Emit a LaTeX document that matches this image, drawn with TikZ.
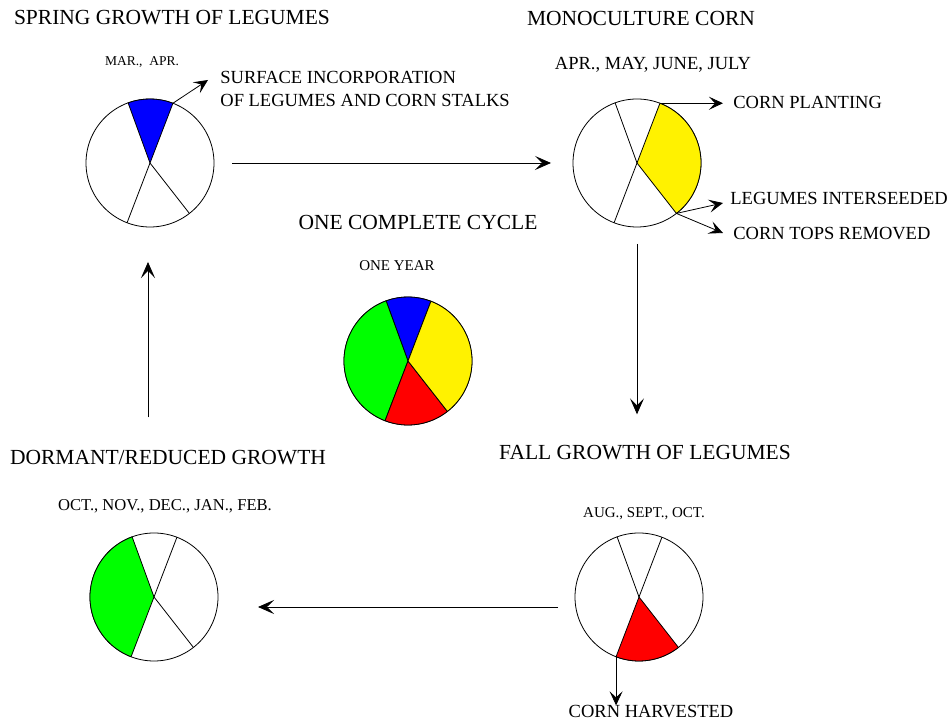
\documentclass[tikz,border=0pt]{standalone}
\usepackage{fontspec}
\setmainfont{Liberation Serif}
\usetikzlibrary{arrows.meta}

\tikzset{
	pie/.style={circle, draw, minimum size=128pt, inner sep=0pt, outer sep=0pt},
	flow/.style={-{Stealth[length=16pt, width=14pt, inset=7pt]}},
	pointer/.style={-{Stealth[length=14pt, width=13pt, inset=6pt]}},
	heading/.style={font=\fontsize{21.5}{24}\selectfont, inner sep=0pt},
	months/.style={font=\fontsize{15}{17}\selectfont, inner sep=0pt},
	event/.style={font=\fontsize{18.5}{23}\selectfont, inner sep=0pt, align=left, anchor=west},
}

\begin{document}
\begin{tikzpicture}[x=1pt, y=1pt, line width=0.8pt]
	\useasboundingbox (0,0) rectangle (951,725);

	% headings
	\node[heading] (springhead) at (172,707) {SPRING GROWTH OF LEGUMES};
	\node[heading] (cornhead) at (641,707) {MONOCULTURE CORN};
	\node[heading] (cyclehead) at (418,503) {ONE COMPLETE CYCLE};
	\node[heading] (dormanthead) at (168,267) {DORMANT/REDUCED GROWTH};
	\node[heading] (fallhead) at (645,272) {FALL GROWTH OF LEGUMES};

	% months
	\node[months, font=\fontsize{13.5}{16}\selectfont] (marapr) at (142,663) {MAR., \ APR.};
	\node[event, anchor=center] (aprjuly) at (653,660) {APR., MAY, JUNE, JULY};
	\node[months] (oneyear) at (397,459) {ONE YEAR};
	\node[months, font=\fontsize{16.6}{19}\selectfont] (octfeb) at (165,219) {OCT., NOV., DEC., JAN., FEB.};
	\node[months] (augoct) at (644,211) {AUG., SEPT., OCT.};

	% events
	\node[event] (surface) at (220,636.5) {SURFACE INCORPORATION\\OF LEGUMES AND CORN STALKS};
	\node[event] (plant) at (733,623) {CORN PLANTING};
	\node[event] (interseed) at (730,527) {LEGUMES INTERSEEDED};
	\node[event] (tops) at (733,491) {CORN TOPS REMOVED};
	\node[event, anchor=center] (harvest) at (651,13) {CORN HARVESTED};

	% spring
	\node[pie] (spring) at (150,562) {};
	\filldraw[fill=blue] (spring.center) -- (spring.69) arc[start angle=69, end angle=110, radius=64pt] -- cycle;
	\foreach \a in {249, 308}
	\draw (spring.center) -- (spring.\a);

	% corn
	\node[pie] (corn) at (637,562) {};
	\filldraw[fill=yellow] (corn.center) -- (corn.308) arc[start angle=-52, end angle=69, radius=64pt] -- cycle;
	\foreach \a in {110, 249}
	\draw (corn.center) -- (corn.\a);

	% one year
	\node[pie] (year) at (408,364) {};
	\filldraw[fill=blue] (year.center) -- (year.69) arc[start angle=69, end angle=110, radius=64pt] -- cycle;
	\filldraw[fill=green] (year.center) -- (year.110) arc[start angle=110, end angle=249, radius=64pt] -- cycle;
	\filldraw[fill=red] (year.center) -- (year.249) arc[start angle=249, end angle=308, radius=64pt] -- cycle;
	\filldraw[fill=yellow] (year.center) -- (year.308) arc[start angle=-52, end angle=69, radius=64pt] -- cycle;

	% dormant
	\node[pie] (dormant) at (154,128) {};
	\filldraw[fill=green] (dormant.center) -- (dormant.110) arc[start angle=110, end angle=249, radius=64pt] -- cycle;
	\foreach \a in {69, 308}
	\draw (dormant.center) -- (dormant.\a);

	% fall
	\node[pie] (fall) at (639,128) {};
	\filldraw[fill=red] (fall.center) -- (fall.249) arc[start angle=249, end angle=308, radius=64pt] -- cycle;
	\foreach \a in {69, 110}
	\draw (fall.center) -- (fall.\a);

	% cycle arrows
	\draw[flow] ([xshift=18pt]spring.east) -- ([xshift=-22pt]corn.west);
	\draw[flow] ([yshift=-17pt]corn.south) -- ([yshift=31pt]corn.south |- fallhead.north);
	\draw[flow] ([shift={(-17pt,-10pt)}]fall.west) -- ([shift={(40pt,-10pt)}]dormant.east);
	\draw[flow] (spring.south |- dormanthead.north) ++(-2,33) -- ([shift={(-2pt,-35pt)}]spring.south);

	% event arrows
	\coordinate (surfacetip) at (208,645);
	\coordinate (seedtip) at (723,522);
	\coordinate (topstip) at (723,492);
	\draw[pointer] (spring.69) -- (surfacetip);
	\draw[pointer, shorten >=10pt] (corn.69) -- (corn.69 -| plant.west);
	\draw[pointer] (corn.308) -- (seedtip);
	\draw[pointer] (corn.308) -- (topstip);
	\draw[pointer] (fall.249) -- (fall.249 |- harvest.north);
\end{tikzpicture}
\end{document}
